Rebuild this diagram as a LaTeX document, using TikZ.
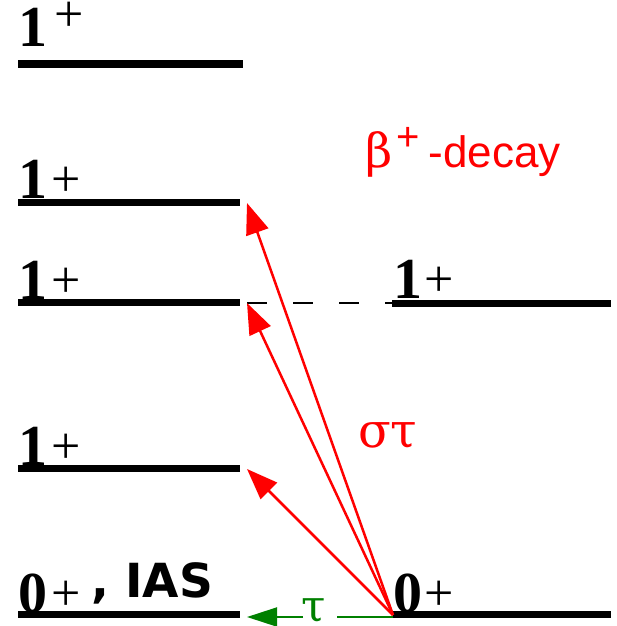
\documentclass[tikz,border=0pt]{standalone}
\usepackage{fontspec}
\setmainfont{Liberation Serif}
\newfontfamily\dvsans{DejaVu Sans}
\newfontfamily\dvserif{DejaVu Serif}
\newfontfamily\lsans{Liberation Sans}
\usetikzlibrary{arrows.meta}
\definecolor{mygreen}{RGB}{0,128,0}
\begin{document}
\begin{tikzpicture}[x=1pt,y=-1pt,
  level/.style={line width=7pt},
  lbl/.style={anchor=base west, inner sep=0pt, font=\fontsize{58}{58}\selectfont\bfseries},
  plus/.style={anchor=base west, inner sep=0pt, text height=0.55em, text depth=0pt, font=\fontsize{52}{52}\selectfont},
  redarrow/.style={red, line width=2.5pt, -{Triangle[length=31pt,width=23pt]}},
  greenline/.style={mygreen, line width=2pt},
  greenarrow/.style={greenline, -{Triangle[length=30pt,width=19pt]}},
  dashline/.style={line width=1.8pt, dash pattern=on 20pt off 26pt}]
\useasboundingbox (0,0) rectangle (617,626);
% level end points
\coordinate (a1) at (18,64);  \coordinate (b1) at (243,64);
\coordinate (a2) at (18,202); \coordinate (b2) at (240,202);
\coordinate (a3) at (18,302); \coordinate (b3) at (240,302);
\coordinate (a4) at (18,468); \coordinate (b4) at (240,468);
\coordinate (a5) at (18,614); \coordinate (b5) at (240,614);
\coordinate (c3) at (392,303); \coordinate (d3) at (611,303);
\coordinate (c5) at (393,614); \coordinate (d5) at (611,614);
\draw[level] (a1) -- (b1);
\draw[level] (a2) -- (b2);
\draw[level] (a3) -- (b3);
\draw[level] (a4) -- (b4);
\draw[level] (a5) -- (b5);
\draw[level] (c3) -- (d3);
\draw[level] (c5) -- (d5);
\draw[dashline] (b3) ++(7,1) coordinate (ds) (ds) -- (c3);
% labels
\node[lbl] (t1) at (18,47) {1};
\node[plus] (t1p) at (54,32) {+};
\node[lbl] (t2) at (18,198) {1};
\node[plus] (t2p) at (51,196) {+};
\node[lbl] (t3) at (18,299) {1};
\node[plus] (t3p) at (51,297) {+};
\node[lbl] (t4) at (18,465) {1};
\node[plus] (t4p) at (51,463) {+};
\node[lbl] (t5) at (18,612) {0};
\node[plus] (t5p) at (51,610) {+};
\node[anchor=base west, inner sep=0pt, font=\fontsize{47}{47}\selectfont\dvsans\bfseries] (ias) at (91,597) {, IAS};
\node[lbl] (r3) at (393,298) {1};
\node[plus] (r3p) at (424,296) {+};
\node[lbl] (r5) at (393,612) {0};
\node[plus] (r5p) at (424,610) {+};
% arrows
\coordinate (src) at (393,615);
\coordinate (g2) at (247,203);
\coordinate (g3) at (247,303);
\coordinate (g4) at (247,469);
\coordinate (g5) at (247,617);
\draw[redarrow] (src) -- (g2);
\draw[redarrow] (src) -- (g3);
\draw[redarrow] (src) -- (g4);
\node[anchor=base, inner sep=0pt, text=mygreen, font=\fontsize{44}{44}\selectfont\dvserif] (tau) at (314,621) {τ};
\coordinate (tauL) at (303,617);
\coordinate (tauR) at (337,617);
\draw[greenline] (src |- g5) -- (tauR);
\draw[greenarrow] (tauL) -- (g5);
% texts
\node[anchor=base west, inner sep=0pt, text=red] (beta) at (365,167)
  {\dvserif\fontsize{47}{47}\selectfont β\hspace{4pt}\raisebox{17pt}{\lsans\fontsize{40}{40}\selectfont +}\hspace{9pt}\lsans\fontsize{44}{44}\selectfont -decay};
\node[anchor=base west, inner sep=0pt, text=red, font=\fontsize{48}{48}\selectfont\dvserif] (st) at (358,447) {στ};
\end{tikzpicture}
\end{document}
